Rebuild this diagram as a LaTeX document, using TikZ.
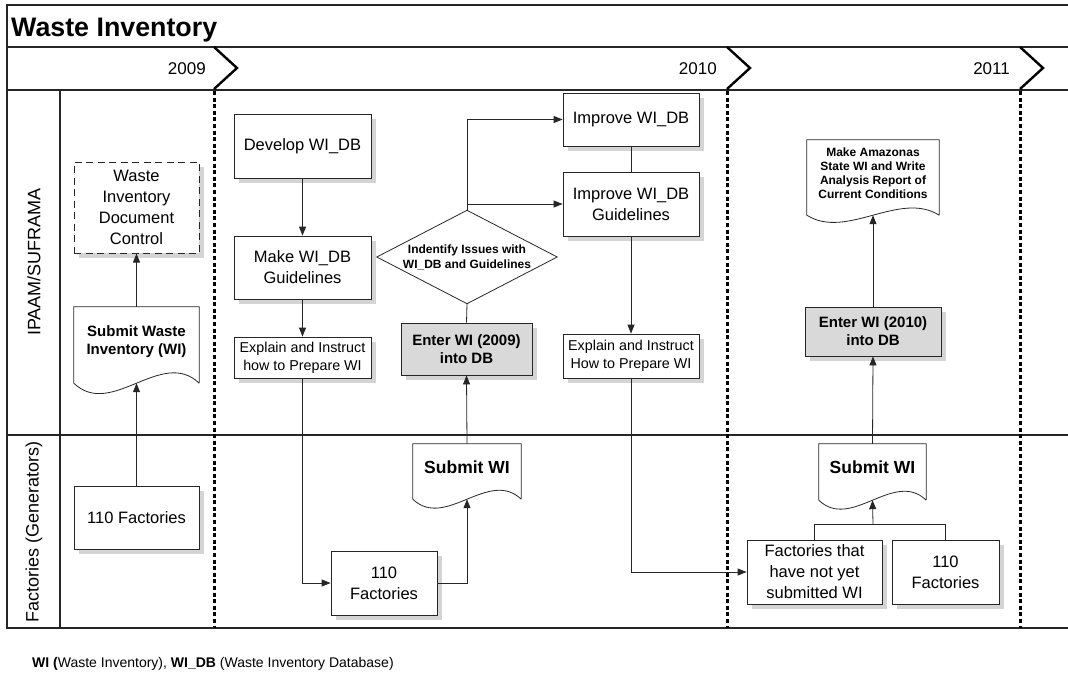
\documentclass[tikz,border=0pt]{standalone}
\usepackage{fontspec}
\setmainfont{Liberation Sans}
\usetikzlibrary{shadows,arrows.meta,calc}
\newcommand\fsz[2]{\fontsize{#1pt}{#2pt}\selectfont}

\tikzset{
  frame/.style={line width=1.2pt, draw=black!85},
  yearsep/.style={line width=3pt, dash pattern=on 4pt off 2.6pt, draw=black},
  chev/.style={line width=2.4pt, draw=black, miter limit=10},
  shad/.style={drop shadow={shadow xshift=5pt, shadow yshift=-5pt, fill=black!17, opacity=1}},
  box/.style={draw=black!85, line width=0.8pt, fill=white, inner sep=2pt, align=center, shad},
  plainbox/.style={box, font=\fsz{16.5}{21}},
  smallbox/.style={box, font=\fsz{14.3}{18}},
  graybox/.style={box, fill=black!15, font=\bfseries\fsz{15}{18}},
  doc/.style={draw=none, inner sep=2pt, align=center, text depth=9pt},
  docline/.style={draw=black!85, line width=0.8pt},
  conn/.style={line width=0.8pt, draw=black!85},
  arr/.style={conn, -{Triangle[length=9pt,width=7pt]}},
  year/.style={font=\fsz{17}{20}, anchor=base east, inner sep=0pt},
  lanelbl/.style={font=\fsz{18}{21}, rotate=90, inner sep=0pt},
}

% document symbol: straight top and sides, wavy bottom edge
\newcommand\docpath[2]{%
  \draw[docline] (#1.south east) -- (#1.north east) -- (#1.north west) -- (#1.south west)
    .. controls ($(#1.south west)!0.3!(#1.south east)+(0,#2)$)
       and ($(#1.south west)!0.7!(#1.south east)+(0,-#2)$) .. (#1.south east);}

\begin{document}
\begin{tikzpicture}[x=1pt,y=-1pt]
\useasboundingbox (0,0) rectangle (1068,673);

% ---- swimlane frame ----
\draw[frame] (1068,5) -- (7,5) -- (7,628) -- (1068,628);
\draw[frame] (7,47) -- (1068,47);
\draw[frame] (7,90) -- (1068,90);
\draw[frame] (7,435) -- (1068,435);
\draw[frame] (60,90) -- (60,628);

% ---- year separators ----
\foreach \xs in {214,727,1020} {
  \draw[yearsep] (\xs,91) -- (\xs,628);
  \draw[chev] (\xs,47) -- (\xs+23,68) -- (\xs,89);
}

\node[anchor=base west, inner sep=0pt, font=\bfseries\fsz{26.8}{30}] (title) at (11,36) {Waste Inventory};
\node[year] (y2009) at (206,74) {2009};
\node[year] (y2010) at (717,74) {2010};
\node[year] (y2011) at (1010,74) {2011};

\node[lanelbl] (laneA) at (34,262) {IPAAM/SUFRAMA};
\node[lanelbl] (laneB) at (34,532) {Factories (Generators)};

% ---- 2009 ----
\node[plainbox, dashed, dash pattern=on 7pt off 4.5pt, line width=1pt,
      minimum width=125pt, minimum height=91pt] (wdc) at (136.5,207.5)
      {Waste\\Inventory\\Document\\Control};
\node[doc, minimum width=125pt, minimum height=76pt, font=\bfseries\fsz{15}{18}] (sub1) at (136.5,345)
      {Submit Waste\\Inventory (WI)};
\docpath{sub1}{36}
\node[plainbox, minimum width=125pt, minimum height=63pt] (fac1) at (136.5,517.5) {110 Factories};

% ---- 2010 ----
\node[plainbox, minimum width=137pt, minimum height=64pt] (dev) at (302.5,146) {Develop WI\_DB};
\node[plainbox, minimum width=137pt, minimum height=63pt] (mk) at (302.5,267.5) {Make WI\_DB\\Guidelines};
\node[smallbox, minimum width=137pt, minimum height=41pt] (exp1) at (302.5,357.5) {Explain and Instruct\\how to Prepare WI};

\node[draw=none, inner sep=0pt, align=center, minimum width=180pt, minimum height=93pt,
      font=\bfseries\fsz{12}{15}] (dia) at (467,257) {Indentify Issues with\\WI\_DB and Guidelines};
\draw[conn] (dia.west) -- (dia.north) -- (dia.east) -- (dia.south) -- cycle;

\node[graybox, minimum width=131pt, minimum height=52pt] (ent1) at (466.5,349) {Enter WI (2009)\\into DB};

\node[plainbox, minimum width=136pt, minimum height=53pt] (imp1) at (631,119.5) {Improve WI\_DB};
\node[plainbox, minimum width=136pt, minimum height=64pt] (imp2) at (631,204) {Improve WI\_DB\\Guidelines};
\node[smallbox, minimum width=136pt, minimum height=44pt] (exp2) at (631,356) {Explain and Instruct\\How to Prepare WI};

\node[doc, minimum width=108pt, minimum height=55pt, font=\bfseries\fsz{17.5}{20}] (sub2) at (467,471.5) {Submit WI};
\docpath{sub2}{31}
\node[plainbox, minimum width=106pt, minimum height=64pt] (fac2) at (384,583) {110\\Factories};

% ---- 2011 ----
\node[doc, minimum width=132pt, minimum height=75pt, font=\bfseries\fsz{12}{14}] (amz) at (873,177.5)
      {Make Amazonas\\State WI and Write\\Analysis Report of\\Current Conditions};
\docpath{amz}{25}
\node[graybox, minimum width=136pt, minimum height=49pt] (ent2) at (873,331.5) {Enter WI (2010)\\into DB};
\node[doc, minimum width=107pt, minimum height=56pt, font=\bfseries\fsz{17.5}{20}] (sub3) at (872.5,472) {Submit WI};
\docpath{sub3}{31}
\node[plainbox, minimum width=135pt, minimum height=64pt] (fac3) at (814.5,572) {Factories that\\have not yet\\submitted WI};
\node[plainbox, minimum width=107pt, minimum height=64pt] (fac4) at (945.5,572) {110\\Factories};
\coordinate (join) at (873,524);

% ---- connectors ----
\draw[arr] (sub1.north) -- (wdc.south);
\draw[arr] (fac1.north) -- (sub1.south);

\draw[arr] (dev.south) -- (mk.north);
\draw[arr] (mk.south) -- (exp1.north);
\draw[arr] (exp1.south) |- (fac2.west);
\draw[arr] (fac2.east) -| (sub2.south);
\draw[arr] (sub2.north) -- (ent1.south);
\draw[conn] (ent1.north) -- (dia.south);
\draw[arr] (dia.north) |- (imp1.west);
\draw[arr] (dia.north) |- (imp2.west);
\draw[conn] (imp1.south) -- (imp2.north);
\draw[arr] (imp2.south) -- (exp2.north);
\draw[arr] (exp2.south) |- (fac3.west);

\draw[conn] (fac3.north) |- (join) -| (fac4.north);
\draw[arr] (join) -- (sub3.south);
\draw[arr] (sub3.north) -- (ent2.south);
\draw[arr] (ent2.north) -- (amz.south);

% ---- legend ----
\node[anchor=base west, inner sep=0pt, font=\fsz{14}{16}] (legend) at (32,667)
  {\textbf{WI (}Waste Inventory), \textbf{WI\_DB} (Waste Inventory Database)};
\end{tikzpicture}
\end{document}
